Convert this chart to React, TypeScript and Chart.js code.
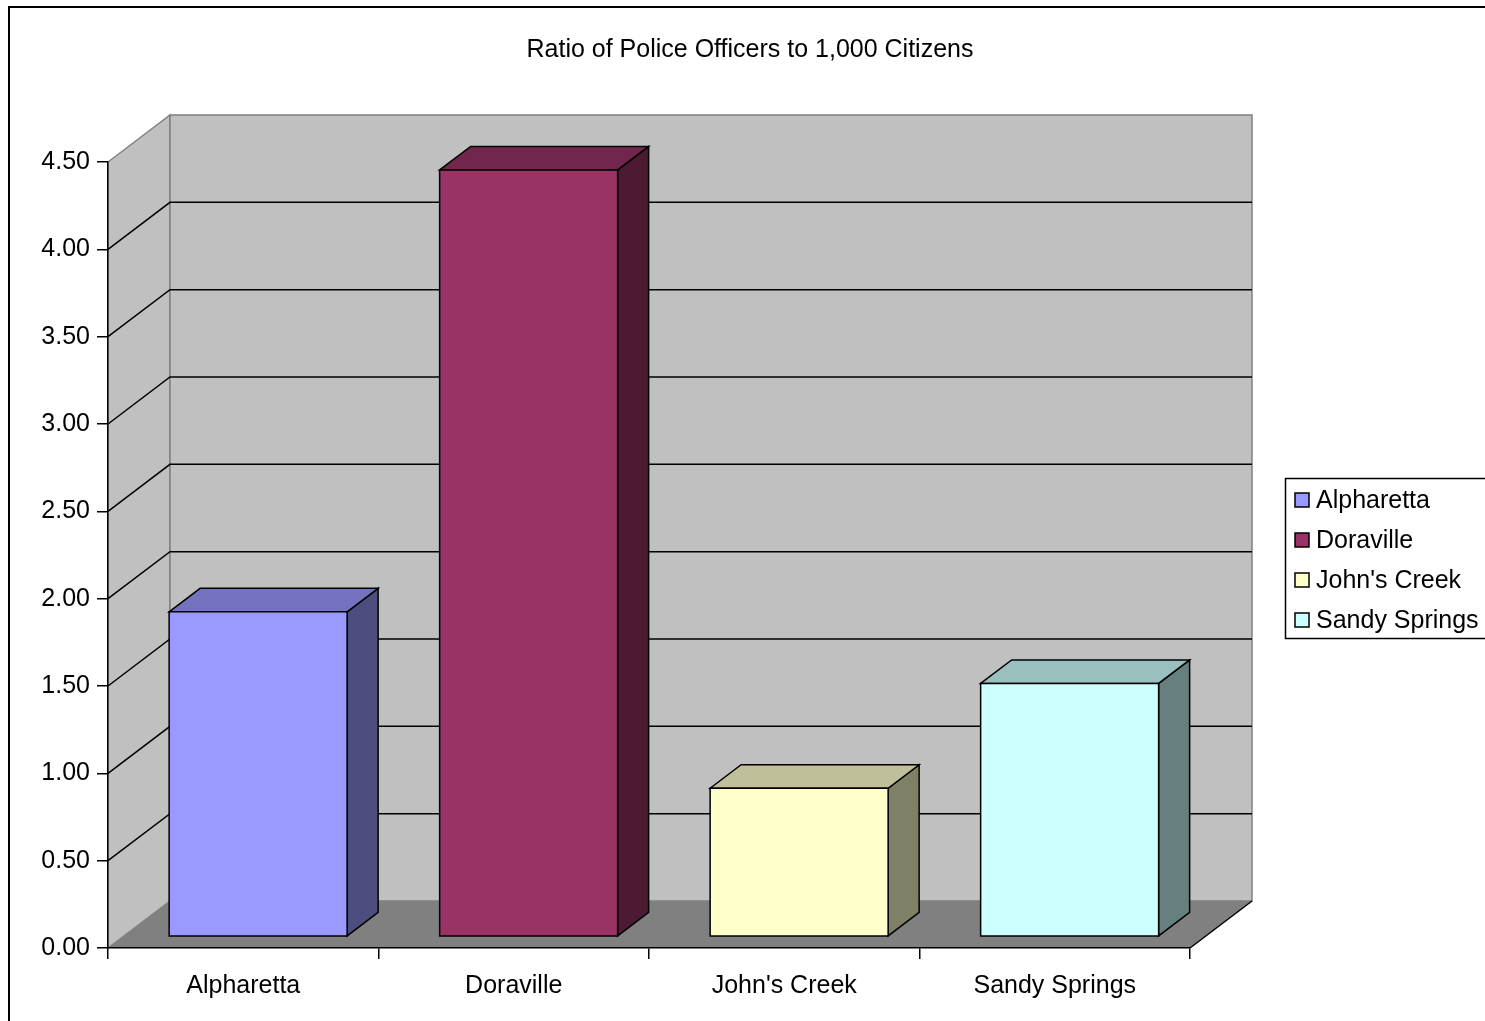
import React, { useEffect, useRef } from 'react';
import { Chart, registerables } from 'chart.js';

Chart.register(...registerables);

const categories = ["Alpharetta", "Doraville", "John's Creek", "Sandy Springs"];
const ratios = [1.86, 4.39, 0.85, 1.45];
const yTickValues = [0, 0.5, 1, 1.5, 2, 2.5, 3, 3.5, 4, 4.5];
const frontColors = ['#9999FF', '#993366', '#FFFFCC', '#CCFFFF'];
const topColors = ['#7373BF', '#73264D', '#BFBF99', '#99BFBF'];
const sideColors = ['#4D4D80', '#4D1A33', '#808066', '#668080'];
const chartTitle = 'Ratio of Police Officers to 1,000 Citizens';

const FONT = '"Liberation Sans", Arial, sans-serif';
const FONT_SIZE = 25;
const W = 1500;
const H = 1021;
const DX = 62;
const DY = -47;
const BAR_FRONT = 0.24;
const BAR_DEPTH = 0.5;

type Pt = [number, number];

function poly(ctx: CanvasRenderingContext2D, pts: Pt[], fill?: string, stroke?: string, lw = 1.5) {
  ctx.beginPath();
  ctx.moveTo(pts[0][0], pts[0][1]);
  for (let i = 1; i < pts.length; i++) ctx.lineTo(pts[i][0], pts[i][1]);
  ctx.closePath();
  if (fill) {
    ctx.fillStyle = fill;
    ctx.fill();
  }
  if (stroke) {
    ctx.strokeStyle = stroke;
    ctx.lineWidth = lw;
    ctx.lineJoin = 'miter';
    ctx.stroke();
  }
}

const threeD = {
  id: 'threeD',
  beforeDraw(chart: any) {
    const ctx: CanvasRenderingContext2D = chart.ctx;
    const { left: L, right: R, top: T, bottom: B } = chart.chartArea;
    const ys = chart.scales.y;
    ctx.save();
    // outer frame
    ctx.strokeStyle = '#000';
    ctx.lineWidth = 2;
    ctx.strokeRect(9, 7, 1483, 1100);
    // side wall
    poly(ctx, [[L, B], [L, T], [L + DX, T + DY], [L + DX, B + DY]], '#C0C0C0', '#808080');
    // back wall
    poly(ctx, [[L + DX, T + DY], [R + DX, T + DY], [R + DX, B + DY], [L + DX, B + DY]], '#C0C0C0', '#808080');
    // floor
    poly(ctx, [[L, B], [L + DX, B + DY], [R + DX, B + DY], [R, B]], '#808080');
    ctx.beginPath();
    ctx.moveTo(R, B);
    ctx.lineTo(R + DX, B + DY);
    ctx.strokeStyle = '#000';
    ctx.lineWidth = 1.5;
    ctx.stroke();
    // gridlines on side and back walls
    ctx.strokeStyle = '#000';
    ctx.lineWidth = 1.5;
    yTickValues.forEach((v) => {
      if (v <= ys.min || v >= ys.max) return;
      const py = ys.getPixelForValue(v);
      ctx.beginPath();
      ctx.moveTo(L, py);
      ctx.lineTo(L + DX, py + DY);
      ctx.lineTo(R + DX, py + DY);
      ctx.stroke();
    });
    ctx.restore();
  },
  beforeDatasetDraw() {
    return false;
  },
  afterDatasetsDraw(chart: any) {
    const ctx: CanvasRenderingContext2D = chart.ctx;
    const meta = chart.getDatasetMeta(0);
    ctx.save();
    meta.data.forEach((bar: any, i: number) => {
      const p = bar.getProps(['x', 'y', 'base', 'width'], true);
      const sx = BAR_FRONT * DX;
      const sy = BAR_FRONT * DY;
      const l = p.x - p.width / 2 + sx;
      const r = p.x + p.width / 2 + sx;
      const t = p.y + sy;
      const b = p.base + sy;
      const dx = BAR_DEPTH * DX;
      const dy = BAR_DEPTH * DY;
      poly(ctx, [[r, b], [r, t], [r + dx, t + dy], [r + dx, b + dy]], sideColors[i], '#000');
      poly(ctx, [[l, t], [l + dx, t + dy], [r + dx, t + dy], [r, t]], topColors[i], '#000');
      poly(ctx, [[l, t], [r, t], [r, b], [l, b]], frontColors[i], '#000');
    });
    ctx.restore();
  },
  afterDraw(chart: any) {
    const ctx: CanvasRenderingContext2D = chart.ctx;
    ctx.save();
    // legend
    const lx = 1285;
    const ly = 478;
    ctx.fillStyle = '#fff';
    ctx.fillRect(lx, ly, 210, 160);
    ctx.strokeStyle = '#000';
    ctx.lineWidth = 1.5;
    ctx.strokeRect(lx + 0.5, ly + 0.5, 210, 160);
    ctx.font = `${FONT_SIZE}px ${FONT}`;
    ctx.textBaseline = 'middle';
    ctx.textAlign = 'left';
    categories.forEach((c, i) => {
      const cy = 500 + i * 40;
      ctx.fillStyle = frontColors[i];
      ctx.fillRect(1295, cy - 7, 14, 14);
      ctx.strokeStyle = '#000';
      ctx.lineWidth = 1.5;
      ctx.strokeRect(1295, cy - 7, 14, 14);
      ctx.fillStyle = '#000';
      ctx.fillText(c, 1316, cy + 1);
    });
    ctx.restore();
  },
};

export default function App() {
  const ref = useRef<HTMLCanvasElement | null>(null);
  useEffect(() => {
    if (!ref.current) return;
    const font = { family: FONT, size: FONT_SIZE };
    const chart = new Chart(ref.current, {
      type: 'bar',
      data: {
        labels: categories,
        datasets: [
          {
            label: 'Ratio',
            data: ratios,
            backgroundColor: frontColors,
            borderColor: '#000',
            borderWidth: 1.5,
            categoryPercentage: 1,
            barPercentage: 0.658,
          },
        ],
      },
      options: {
        responsive: false,
        animation: false,
        layout: { padding: { left: 0, right: 0, top: 0, bottom: 0 } },
        plugins: {
          legend: { display: false },
          tooltip: { enabled: false },
          title: {
            display: true,
            text: chartTitle,
            color: '#000',
            font: { family: FONT, size: FONT_SIZE, weight: 'normal' },
            padding: { top: 35, bottom: 97 },
          },
        },
        scales: {
          x: {
            type: 'category',
            offset: true,
            grid: {
              offset: true,
              drawOnChartArea: false,
              drawTicks: true,
              tickLength: 11,
              color: '#000',
              lineWidth: 1.5,
            },
            border: { display: true, color: '#000', width: 1.5 },
            ticks: { font, color: '#000', padding: 12, maxRotation: 0, autoSkip: false },
            afterFit: (s: any) => {
              s.height = 73;
            },
          },
          y: {
            type: 'linear',
            min: 0,
            max: 4.5,
            afterBuildTicks: (s: any) => {
              s.ticks = yTickValues.map((v) => ({ value: v }));
            },
            grid: {
              drawOnChartArea: false,
              drawTicks: true,
              tickLength: 11,
              color: '#000',
              lineWidth: 1.5,
            },
            border: { display: true, color: '#000', width: 1.5 },
            ticks: {
              font,
              color: '#000',
              padding: 7,
              callback: (v: any) => Number(v).toFixed(2),
            },
            afterFit: (s: any) => {
              s.width = 108;
            },
          },
          // empty right-hand strip that holds the space for the legend
          legendSpace: {
            type: 'linear',
            position: 'right',
            display: true,
            grid: { display: false },
            border: { display: false },
            ticks: { display: false },
            afterFit: (s: any) => {
              s.width = W - 1190;
            },
          },
        },
      },
      plugins: [threeD],
    } as any);
    return () => chart.destroy();
  }, []);
  return (
    <div style={{ position: 'fixed', left: 0, top: 0, width: 1485, height: 1021, overflow: 'hidden', background: '#fff' }}>
      <canvas ref={ref} width={W} height={H} style={{ display: 'block', width: W, height: H }} />
    </div>
  );
}
